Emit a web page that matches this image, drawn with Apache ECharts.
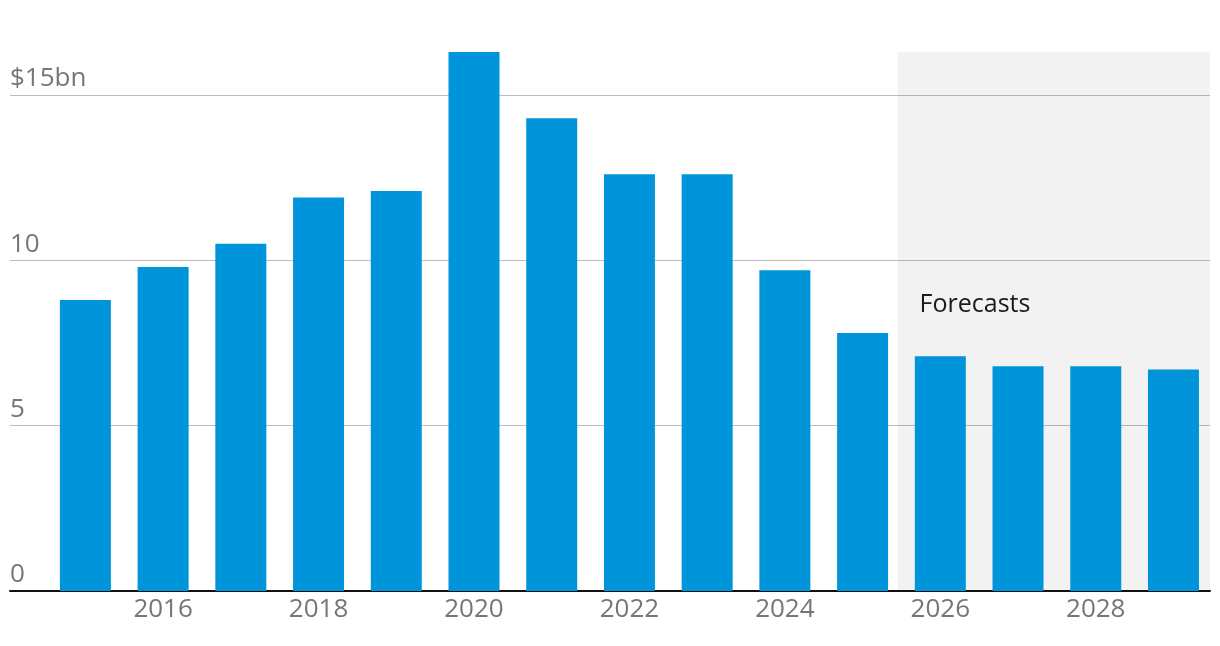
<!DOCTYPE html>
<html>
<head>
<meta charset="utf-8">
<script src="https://cdn.jsdelivr.net/npm/echarts@6/dist/echarts.min.js"></script>
<style>
html,body{margin:0;padding:0;background:#fff;}
#chart{width:1220px;height:646px;}
</style>
</head>
<body>
<div id="chart"></div>
<script>
const years = [2015, 2016, 2017, 2018, 2019, 2020, 2021, 2022, 2023, 2024, 2025, 2026, 2027, 2028, 2029];
const values = [8.8, 9.8, 10.5, 11.9, 12.1, 16.3, 14.3, 12.6, 12.6, 9.7, 7.8, 7.1, 6.8, 6.8, 6.7];
const xTickLabels = [2016, 2018, 2020, 2022, 2024, 2026, 2028];
const yTickValues = [0, 5, 10, 15];
const forecastStart = 2025.45;
const forecastLabel = 'Forecasts';

const X_MIN = 2014.03, X_MAX = 2029.47, Y_MAX = 16.3;
const FONT = '"Open Sans", "Noto Sans", sans-serif';

const chart = echarts.init(document.getElementById('chart'), null, {renderer: 'canvas'});
chart.setOption({
  animation: false,
  backgroundColor: '#ffffff',
  grid: {left: 10, right: 10, top: 52, bottom: 55, containLabel: false},
  xAxis: {
    type: 'value',
    min: X_MIN, max: X_MAX,
    axisLine: {show: true, onZero: false, lineStyle: {color: '#111', width: 2}},
    axisTick: {show: false},
    splitLine: {show: false},
    axisLabel: {
      customValues: xTickLabels,
      color: '#767676', fontSize: 26, fontFamily: FONT, margin: 6,
      formatter: v => String(v)
    }
  },
  yAxis: {
    type: 'value',
    min: 0, max: Y_MAX,
    axisLine: {show: false},
    axisTick: {show: false, customValues: yTickValues},
    splitLine: {show: true, lineStyle: {color: '#bdbdbd', width: 1}},
    axisLabel: {
      customValues: yTickValues,
      inside: true, margin: 0,
      verticalAlign: 'bottom',
      padding: [0, 0, 3, 0],
      color: '#767676', fontSize: 26, fontFamily: FONT,
      formatter: v => v === 15 ? '$15bn' : String(v)
    }
  },
  series: [{
    type: 'bar',
    barWidth: 51,
    itemStyle: {color: '#0094da'},
    data: years.map((y, i) => [y, values[i]]),
    markArea: {
      silent: true,
      itemStyle: {color: 'rgba(0,0,0,0.052)'},
      label: {
        show: true, position: 'insideLeft', distance: 22, offset: [0, -17],
        color: '#1a1a1a', fontSize: 25, fontFamily: FONT
      },
      data: [[
        {name: forecastLabel, xAxis: forecastStart, yAxis: 0},
        {xAxis: X_MAX, yAxis: Y_MAX}
      ]]
    }
  }]
});
</script>
</body>
</html>
